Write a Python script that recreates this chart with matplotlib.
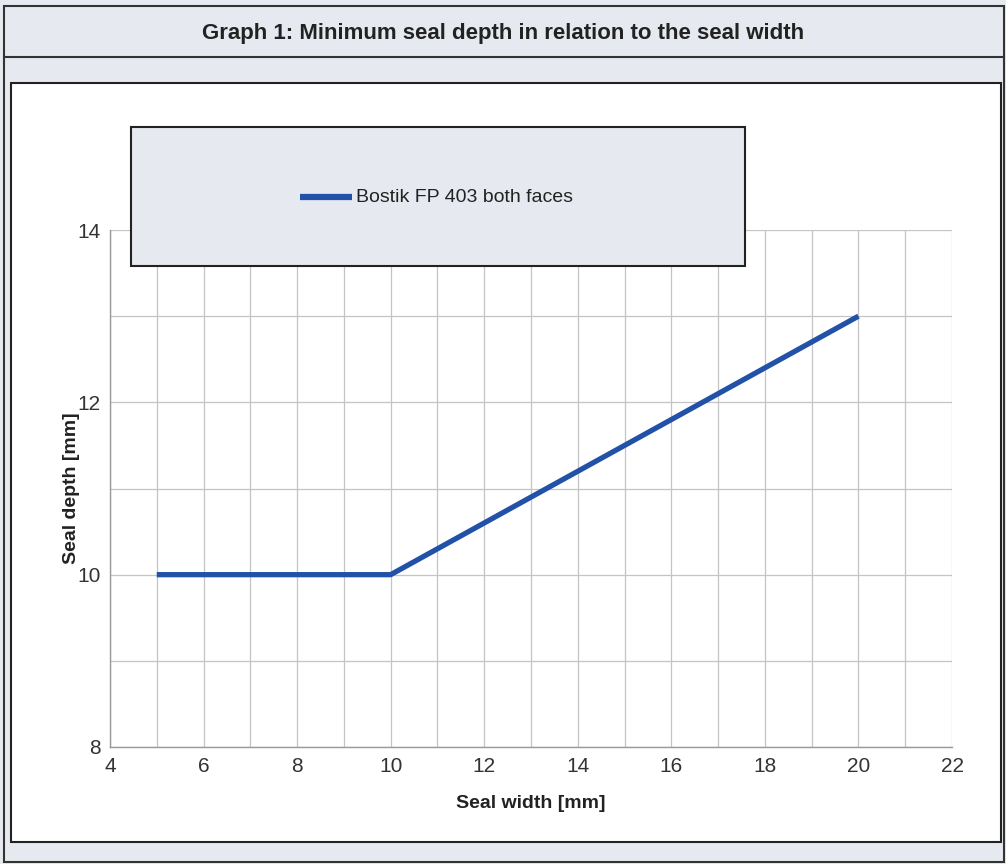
import matplotlib
matplotlib.use("Agg")
import matplotlib.pyplot as plt
from matplotlib.patches import Rectangle
from matplotlib.lines import Line2D

# Datos
seal_width = [5, 10, 20]
seal_depth = [10, 10, 13]
x_ticks = [4, 6, 8, 10, 12, 14, 16, 18, 20, 22]
y_ticks = [8, 10, 12, 14]
series_label = "Bostik FP 403 both faces"

FONT = ["Liberation Sans Narrow", "Liberation Sans", "DejaVu Sans"]
BG = "#e6e9ef"
BLUE = "#2152a8"

fig = plt.figure(figsize=(10.06, 8.64), dpi=100)
fig.patch.set_facecolor(BG)

W, H = 1006, 864


def px_rect(x0, y0, x1, y1, **kw):
    """Rectángulo en coordenadas de píxel (origen arriba a la izquierda)."""
    r = Rectangle((x0 / W, 1 - y1 / H), (x1 - x0) / W, (y1 - y0) / H,
                  transform=fig.transFigure, **kw)
    fig.add_artist(r)
    return r


# marcos exteriores (detrás de los ejes)
px_rect(4, 6, 1004, 862, facecolor="none", edgecolor="#333333", lw=1.5,
        zorder=-2)
fig.add_artist(Line2D([4 / W, 1004 / W], [1 - 57 / H] * 2,
                      transform=fig.transFigure, color="#333333", lw=1.5,
                      zorder=-2))
px_rect(11, 83, 1001, 842, facecolor="white", edgecolor="#222222", lw=1.5,
        zorder=-1)

fig.text(0.5, 1 - 33 / H, "Graph 1: Minimum seal depth in relation to the seal width",
         ha="center", va="center", fontsize=16, fontweight="bold",
         family=FONT, color="#222222")

ax = fig.add_axes([110 / W, 1 - 747 / H, 842 / W, 517 / H])
ax.patch.set_alpha(0)
ax.plot(seal_width, seal_depth, color=BLUE, lw=3.8, solid_capstyle="butt",
        zorder=3)
ax.set_xlim(4, 22)
ax.set_ylim(8, 14)
ax.set_xticks(x_ticks)
ax.set_yticks(y_ticks)
ax.set_xticks(range(4, 23), minor=True)
ax.set_yticks(range(8, 15), minor=True)
ax.grid(which="both", color="#c4c4c4", lw=0.9)
ax.tick_params(which="both", length=0, labelsize=15, colors="#333333", pad=7)
for lab in ax.get_xticklabels() + ax.get_yticklabels():
    lab.set_family(FONT)
for side in ("top", "right"):
    ax.spines[side].set_visible(False)
for side in ("left", "bottom"):
    ax.spines[side].set_color("#999999")
    ax.spines[side].set_linewidth(1.0)
ax.set_xlabel("Seal width [mm]", fontsize=14, fontweight="bold",
              family=FONT, color="#222222", labelpad=14)
ax.set_ylabel("Seal depth [mm]", fontsize=14, fontweight="bold",
              family=FONT, color="#222222", labelpad=-2)

# cuadro de leyenda (encima de los ejes)
px_rect(131, 127, 745, 266, facecolor=BG, edgecolor="#222222", lw=1.5,
        zorder=5)
fig.add_artist(Line2D([300 / W, 352 / W], [1 - 197 / H] * 2,
                      transform=fig.transFigure, color=BLUE, lw=4.5,
                      solid_capstyle="butt", zorder=6))
fig.text(356 / W, 1 - 197 / H, series_label, ha="left", va="center",
         fontsize=14, family=FONT, color="#222222", zorder=6)

fig.savefig("out.png", dpi=100, facecolor=BG)
